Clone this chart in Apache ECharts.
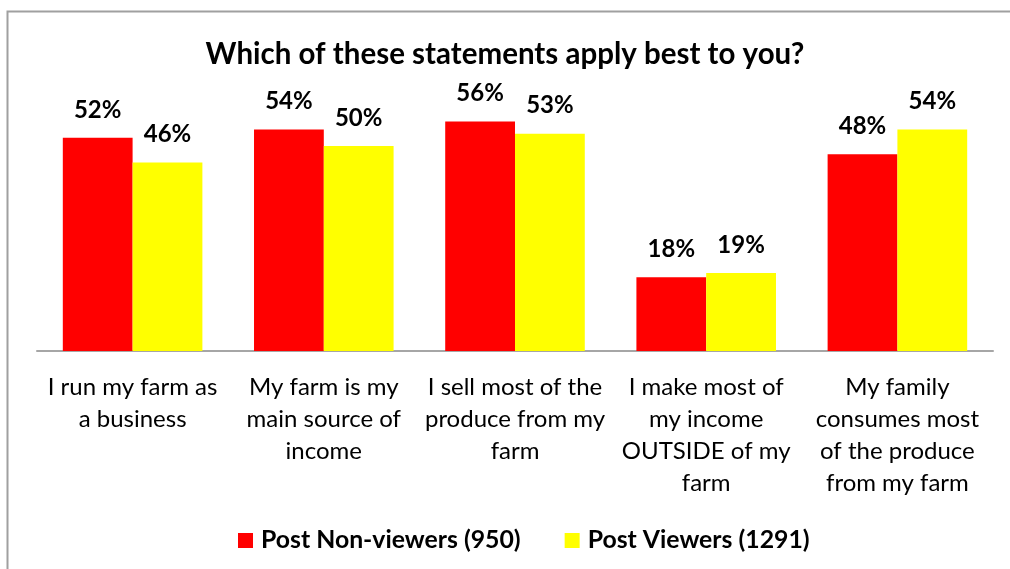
<!DOCTYPE html>
<html>
<head>
<meta charset="utf-8">
<script src="https://cdn.jsdelivr.net/npm/echarts@6/dist/echarts.min.js"></script>
<style>
  html, body { margin: 0; padding: 0; background: #ffffff; }
  #chart { width: 1010px; height: 569px; }
</style>
</head>
<body>
<div id="chart"></div>
<script>
const chartTitle = 'Which of these statements apply best to you?';
const categories = [
  'I run my farm as\na business',
  'My farm is my\nmain source of\nincome',
  'I sell most of the\nproduce from my\nfarm',
  'I make most of\nmy income\nOUTSIDE of my\nfarm',
  'My family\nconsumes most\nof the produce\nfrom my farm'
];
const seriesNames = ['Post Non-viewers (950)', 'Post Viewers (1291)'];
const nonViewers = [52, 54, 56, 18, 48];
const viewers = [46, 50, 53, 19, 54];
const seriesColors = ['#ff0000', '#ffff00'];

const FONT = 'Lato, "Open Sans", sans-serif';

const chart = echarts.init(document.getElementById('chart'), null, { renderer: 'canvas' });

function barSeries(name, data, color) {
  return {
    name: name,
    type: 'bar',
    data: data,
    barGap: '0%',
    barCategoryGap: '27%',
    itemStyle: { color: color },
    label: {
      show: true,
      position: 'top',
      distance: 16,
      formatter: '{c}%',
      fontFamily: FONT,
      fontWeight: 'bold',
      fontSize: 24,
      color: '#000000'
    },
    emphasis: { disabled: true }
  };
}

chart.setOption({
  animation: false,
  backgroundColor: '#ffffff',
  title: {
    text: chartTitle,
    left: 'center',
    top: 34,
    textStyle: {
      fontFamily: FONT,
      fontWeight: 'bold',
      fontSize: 29.5,
      color: '#000000'
    }
  },
  legend: {
    top: 523,
    left: 233,
    itemWidth: 15,
    itemHeight: 15,
    itemGap: 44,
    icon: 'rect',
    textStyle: {
      fontFamily: FONT,
      fontWeight: 'bold',
      fontSize: 24.8,
      color: '#000000',
      padding: [0, 0, 0, 3]
    },
    data: seriesNames
  },
  grid: {
    left: 37,
    right: 17,
    top: 105,
    bottom: 218,
    containLabel: false
  },
  xAxis: {
    type: 'category',
    data: categories,
    axisLine: { show: true, lineStyle: { color: '#a6a6a6', width: 2 } },
    axisTick: { show: false },
    axisLabel: {
      interval: 0,
      margin: 20,
      fontFamily: FONT,
      fontSize: 24,
      lineHeight: 32,
      color: '#000000',
      align: 'center'
    }
  },
  yAxis: {
    type: 'value',
    min: 0,
    max: 60,
    show: false,
    splitLine: { show: false }
  },
  graphic: [{
    type: 'rect',
    shape: { x: 7.5, y: 11.5, width: 1200, height: 800 },
    style: { fill: 'none', stroke: '#a0a0a0', lineWidth: 2 },
    silent: true
  }],
  series: [
    barSeries(seriesNames[0], nonViewers, seriesColors[0]),
    barSeries(seriesNames[1], viewers, seriesColors[1])
  ]
});
</script>
</body>
</html>
